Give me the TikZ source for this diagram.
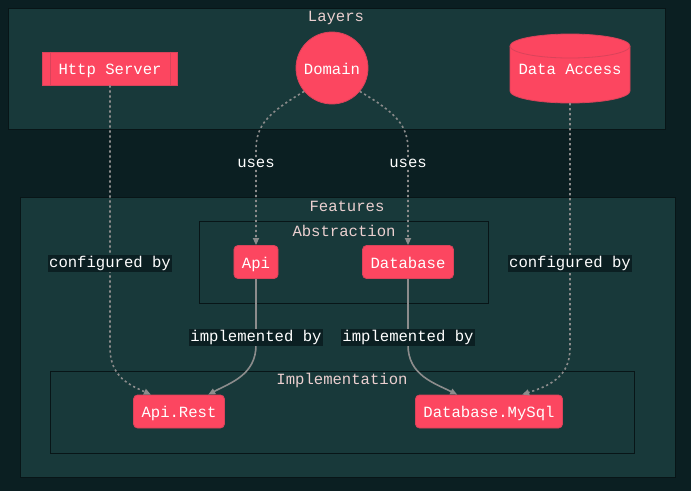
\documentclass[tikz,border=0pt]{standalone}
\usepackage{fontspec}
\setmonofont{Liberation Mono}
\usetikzlibrary{arrows.meta,calc}
\definecolor{bgc}{HTML}{0B1F22}
\definecolor{clc}{HTML}{18393A}
\definecolor{clb}{HTML}{081517}
\definecolor{nfill}{HTML}{FC4660}
\definecolor{nborder}{HTML}{D9435A}
\definecolor{ttlc}{HTML}{EBD0D0}
\definecolor{edg}{HTML}{8C8C8C}
\begin{document}
\begin{tikzpicture}[x=1pt,y=-1pt,
  every node/.style={font=\ttfamily\fontsize{15.6}{18}\selectfont},
  fixtext/.style={text height=12pt,text depth=0pt},
  nodebox/.style={fill=nfill,draw=nborder,line width=0.8pt,text=white,rounded corners=4pt,inner xsep=8pt,inner ysep=0pt,minimum height=33pt,fixtext},
  clus/.style={fill=clc,draw=clb,line width=1pt},
  ttl/.style={text=ttlc,inner sep=0pt},
  lbl/.style={fill=bgc,text=white,inner sep=1.2pt},
  tip/.style={-{Triangle[length=7pt,width=6pt]}},
  dotedge/.style={draw=edg,line width=1.6pt,dash pattern=on 2.2pt off 2.8pt,tip},
  soledge/.style={draw=edg,line width=1.6pt,tip}]
\fill[bgc] (0,0) rectangle (691,491);
\useasboundingbox (0,0) rectangle (691,491);
% clusters
\draw[clus] (8,8) rectangle (665,129);
\node[ttl] (tl) at (336,18) {Layers};
\draw[clus] (20,197) rectangle (675,477);
\node[ttl] (tf) at (347,206.5) {Features};
\draw[clus] (199,221) rectangle (488,303);
\node[ttl] (ta) at (344,230.5) {Abstraction};
\draw[clus] (50,371) rectangle (634,453);
\node[ttl] (ti) at (342,380.5) {Implementation};
% Layers nodes
\node[fill=nfill,draw=nborder,line width=0.8pt,text=white,inner sep=0pt,minimum width=135pt,minimum height=33pt,fixtext] (hs) at (110,68.5) {Http Server};
\draw[nborder,line width=0.8pt] ($(hs.north west)+(8,0)$) -- ($(hs.south west)+(8,0)$);
\draw[nborder,line width=0.8pt] ($(hs.north east)+(-8,0)$) -- ($(hs.south east)+(-8,0)$);
\node[circle,fill=nfill,draw=nborder,line width=0.8pt,text=white,inner sep=0pt,minimum size=72pt,fixtext] (dom) at (332,68) {Domain};
\draw[fill=nfill,draw=nborder,line width=0.8pt] (510,46) -- (510,91) arc[start angle=180,end angle=0,x radius=60,y radius=12] -- (630,46) arc[start angle=0,end angle=-180,x radius=60,y radius=12] -- cycle;
\draw[nborder,line width=0.8pt] (510,46) arc[start angle=180,end angle=0,x radius=60,y radius=12];
\node[text=white,inner sep=0pt,minimum width=120pt,minimum height=69pt,fixtext] (da) at (570,68.5) {Data Access};
% Feature nodes
\node[nodebox] (api) at (256,262) {Api};
\node[nodebox] (db) at (408,262) {Database};
\node[nodebox] (ar) at (179,411.5) {Api.Rest};
\node[nodebox] (ms) at (489,411.5) {Database.MySql};
% edges
\draw[dotedge] (hs.south) -- (110,348) .. controls (110,378) and (132,386) .. (ar.149);
\draw[dotedge] (dom.220) .. controls (268,113) and (256,125) .. (256,150) -- (api.north);
\draw[dotedge] (dom.320) .. controls (396,113) and (408,125) .. (408,150) -- (db.north);
\draw[dotedge] (da.south) -- (570,348) .. controls (570,378) and (548,386) .. (ms.27);
\draw[soledge] (api.south) -- (256,345) .. controls (256,375) and (230,383) .. (ar.30);
\draw[soledge] (db.south) -- (408,345) .. controls (408,375) and (434,383) .. (ms.152);
% labels
\node[lbl] (l1) at (110,263.2) {configured by};
\node[lbl] (l2) at (570,263.2) {configured by};
\node[lbl] (l3) at (256,163.2) {uses};
\node[lbl] (l4) at (408,163.2) {uses};
\node[lbl] (l5) at (256,337.2) {implemented by};
\node[lbl] (l6) at (408,337.2) {implemented by};
\end{tikzpicture}
\end{document}
